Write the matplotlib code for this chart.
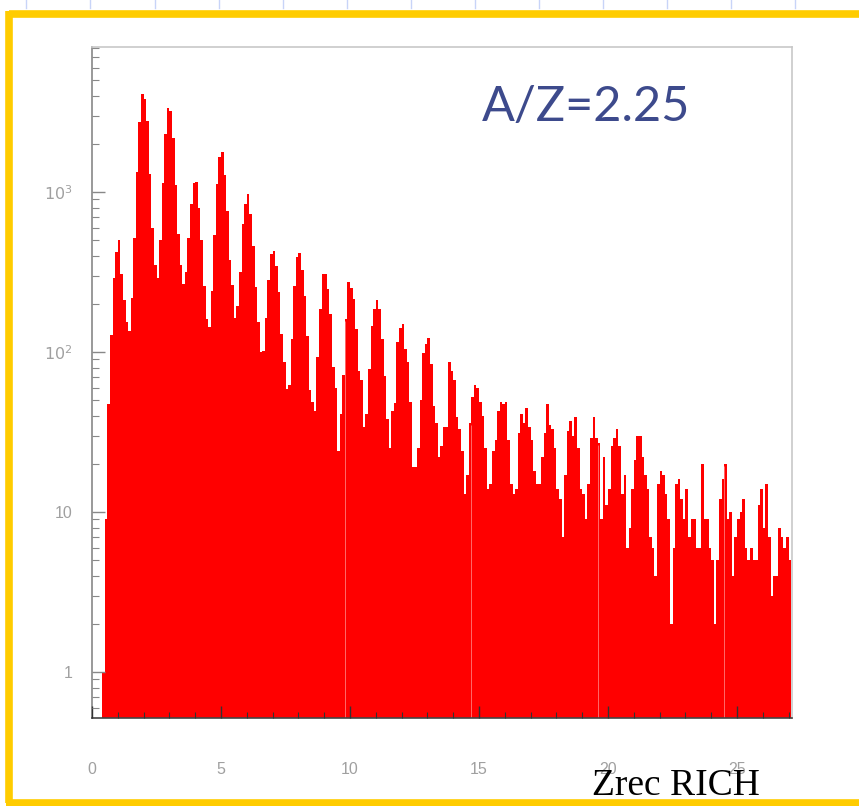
import numpy as np
import matplotlib
matplotlib.use("Agg")
import matplotlib.pyplot as plt
from matplotlib.lines import Line2D
from matplotlib.ticker import FixedLocator, MultipleLocator, LogLocator, NullFormatter

# histogram of reconstructed charge, 0.1 wide bins starting at 0
bin_width = 0.1
counts = [
    0, 0, 0, 0, 1, 9, 47, 128, 290, 420,
    500, 307, 211, 155, 135, 218, 518, 1330, 2740, 4100,
    3800, 2780, 1300, 595, 350, 290, 500, 1140, 2300, 3350,
    3200, 2170, 1100, 545, 350, 265, 316, 518, 840, 1140,
    1155, 792, 500, 259, 161, 144, 241, 540, 1120, 1650,
    1790, 1280, 764, 376, 261, 162, 195, 317, 628, 841,
    972, 729, 459, 256, 155, 100, 102, 164, 282, 408,
    430, 345, 236, 130, 87, 59, 62, 121, 259, 394,
    416, 326, 225, 126, 58, 49, 43, 93, 187, 307,
    306, 247, 172, 81, 60, 24, 41, 72, 160, 275,
    253, 216, 139, 76, 67, 34, 41, 78, 145, 185,
    211, 185, 120, 71, 38, 25, 43, 48, 115, 142,
    150, 104, 86, 49, 19, 19, 25, 50, 98, 112,
    122, 84, 46, 36, 22, 26, 34, 34, 86, 76,
    67, 39, 33, 24, 13, 17, 36, 52, 62, 60,
    49, 40, 25, 14, 15, 24, 28, 43, 49, 47,
    49, 28, 15, 13, 14, 31, 41, 36, 45, 34,
    28, 18, 15, 15, 22, 31, 47, 35, 33, 25,
    14, 12, 7, 17, 32, 37, 30, 39, 25, 14,
    13, 9, 15, 29, 39, 29, 27, 9, 22, 11,
    14, 26, 29, 33, 26, 13, 17, 6, 8, 14,
    21, 30, 30, 22, 17, 14, 7, 6, 4, 15,
    18, 17, 13, 9, 2, 6, 15, 16, 12, 9,
    14, 7, 9, 9, 6, 6, 20, 9, 9, 6,
    5, 2, 5, 12, 16, 20, 9, 10, 4, 7,
    9, 10, 12, 6, 5, 6, 5, 5, 11, 14,
    8, 15, 7, 3, 4, 4, 8, 7, 6, 7,
    5,
]

x_ticks = [0, 5, 10, 15, 20, 25]
y_ticks = [1, 10, 100, 1000]
y_tick_labels = ["1", "10", "$10^{2}$", "$10^{3}$"]

counts = np.array(counts, dtype=float)
edges = np.arange(len(counts) + 1) * bin_width
baseline = 0.1
heights = np.where(counts > 0, counts, baseline)

W, H = 859, 806
fig = plt.figure(figsize=(W / 100, H / 100), dpi=100)
fig.patch.set_facecolor("white")

ax = fig.add_axes([92 / W, 1 - 718 / H, 700 / W, 671 / H])
ax.set_yscale("log")
ax.stairs(heights, edges, fill=True, color="#ff0000", baseline=baseline)

# faint seams inside the filled area of the original
for xs in [9.8, 14.7, 19.6, 24.5]:
    top = heights[int(xs / bin_width)]
    ax.vlines(xs, baseline, top * 0.97, color="#ff6a6a", lw=0.7)

ax.set_xlim(0, 27.13)
ax.set_ylim(0.516, 8060)

ax.xaxis.set_major_locator(FixedLocator(x_ticks))
ax.xaxis.set_minor_locator(MultipleLocator(1))
ax.yaxis.set_major_locator(FixedLocator(y_ticks))
ax.set_yticklabels(y_tick_labels)
ax.yaxis.set_minor_locator(LogLocator(base=10, subs=np.arange(2, 10)))
ax.yaxis.set_minor_formatter(NullFormatter())

ax.tick_params(axis="x", which="major", direction="in", length=9, width=1,
               color="#333333", pad=32, labelsize=11.5, labelcolor="#a0a0a0")
ax.tick_params(axis="x", which="minor", direction="in", length=4.5, width=0.8,
               color="#333333")
ax.tick_params(axis="y", which="major", direction="in", length=9, width=1,
               color="#888888", pad=14, labelsize=11.5, labelcolor="#a0a0a0")
ax.tick_params(axis="y", which="minor", direction="in", length=5, width=0.8,
               color="#888888")
for lab in ax.get_xticklabels() + ax.get_yticklabels():
    lab.set_fontfamily("Liberation Sans")

ax.spines["top"].set_color("#c8c8c8")
ax.spines["right"].set_color("#c8c8c8")
ax.spines["left"].set_color("#888888")
ax.spines["bottom"].set_color("#444444")
for s in ax.spines.values():
    s.set_linewidth(1.2)
ax.set_axisbelow(False)

fig.text(482 / W, 1 - 107 / H, "A/Z=2.25", fontsize=35, color="#3d4a8c",
         family="Lato", ha="left", va="center")
fig.text(592 / W, 1 - 786 / H, "Zrec RICH", fontsize=27, color="black",
         family="Liberation Serif", ha="left", va="center")

# slide frame: yellow border and ruler marks
yellow = "#ffcc00"
fig.add_artist(Line2D([9 / W, 1], [1 - 14 / H, 1 - 14 / H], color=yellow, lw=5.5,
                      transform=fig.transFigure, solid_capstyle="butt"))
fig.add_artist(Line2D([9 / W, 9 / W], [3 / H, 1 - 11 / H], color=yellow, lw=5.5,
                      transform=fig.transFigure, solid_capstyle="butt"))
fig.add_artist(Line2D([6 / W, 1], [3 / H, 3 / H], color=yellow, lw=5.5,
                      transform=fig.transFigure, solid_capstyle="butt"))
for k in range(13):
    xr = (26.3 + 64.1 * k) / W
    fig.add_artist(Line2D([xr, xr], [1, 1 - 8 / H], color="#c8d4f8", lw=1,
                          transform=fig.transFigure))

plt.savefig("out.png", dpi=100)
